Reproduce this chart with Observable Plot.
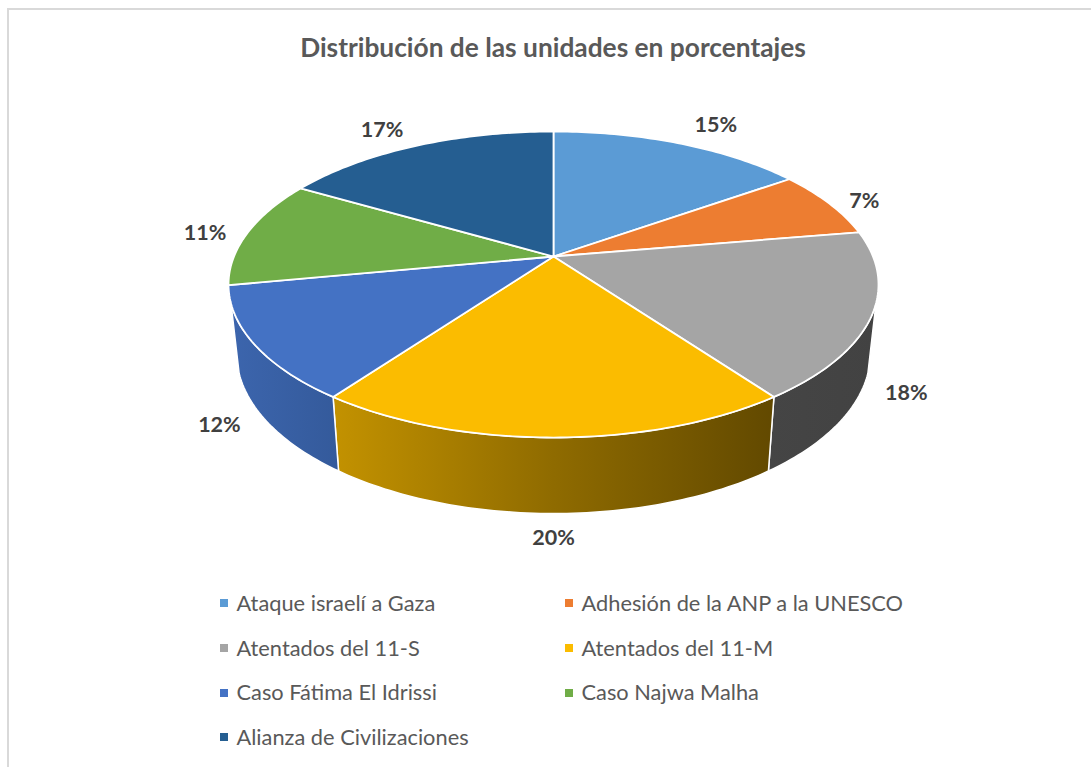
<!DOCTYPE html>
<html>
<head>
<meta charset="utf-8">
<script src="https://cdn.jsdelivr.net/npm/d3@7"></script>
<script src="https://cdn.jsdelivr.net/npm/@observablehq/plot@0.6"></script>
<style>
  html, body { margin: 0; padding: 0; background: #fff; }
  #page { position: relative; width: 1091px; height: 767px; overflow: hidden; font-family: Lato, sans-serif; }
  #frame { position: absolute; left: 7px; top: 8px; width: 1200px; height: 900px; border: 1px solid #d9d9d9; border-width: 2px 0 0 2px; box-sizing: border-box; }
  #title { position: absolute; left: 0; top: 29px; width: 1106px; text-align: center; font-size: 26.3px; line-height: 36px; font-weight: 700; color: #595959; }
  #chart { position: absolute; left: 0; top: 85px; }
  #chart svg { display: block; background: transparent; }
  #legend { position: absolute; left: 220px; top: 580px; display: grid; grid-template-columns: 345px 345px; grid-auto-rows: 44.7px; color: #595959; font-size: 21.8px; }
  .item { display: flex; align-items: center; height: 44.7px; white-space: nowrap; }
  .sw { width: 8px; height: 8px; margin-right: 8.5px; flex: none; position: relative; top: 1px; }
</style>
</head>
<body>
<div id="page">
  <div id="frame"></div>
  <div id="title"></div>
  <div id="chart"></div>
  <div id="legend"></div>
</div>
<script>
const titleText = "Distribución de las unidades en porcentajes";
const names = ["Ataque israelí a Gaza", "Adhesión de la ANP a la UNESCO", "Atentados del 11-S", "Atentados del 11-M", "Caso Fátima El Idrissi", "Caso Najwa Malha", "Alianza de Civilizaciones"];
const values = [15.2, 7.1, 17.7, 20, 12, 11.4, 16.6];
const colors = ["#5b9bd5", "#ed7d31", "#a5a5a5", "#fbbc00", "#4472c4", "#70ad47", "#255e91"];

// Layout of the tilted pie, all in pixels around the pie's centre.
const A = 147.9, B = 319.5, K = 0.183;          // perspective ellipse
const WALL_DY = 67.5, WALL_SX = 0.975, WALL_SY = 1.047; // lower rim
const WALL_FROM = 107.5, WALL_TO = 252.5;        // visible part of the side, degrees from 12 o'clock
const labelNudge = [[36, -18], [35, -2], [35, 77], [0, 101], [-35, 81], [-43, 1], [-34, -16]];

const rad = d => d * Math.PI / 180;
function top3d(deg, r = 1) {
  const u = r * Math.sin(rad(deg)), v = -r * Math.cos(rad(deg)), w = 1 - K * v;
  return [B * u / w, A * v / w];
}
function low3d(deg) {
  const [x, y] = top3d(deg);
  return [x * WALL_SX, WALL_DY + y * WALL_SY];
}
const arc = (a, b, f) => {
  const n = Math.max(2, Math.ceil(Math.abs(b - a)));
  return d3.range(n + 1).map(i => f(a + (b - a) * i / n));
};

let cum = 0;
const slices = values.map((v, i) => {
  const start = cum * 3.6; cum += v;
  return {name: names[i], color: colors[i], value: v, start, end: cum * 3.6, mid: (start + cum * 3.6) / 2, i};
});

const facePts = slices.flatMap(s => [[0, 0], ...arc(s.start, s.end, top3d), [0, 0]]
  .map(([x, y]) => ({name: s.name, color: s.color, x, y})));

// One gradient per visible side: darker slice colour, lighting from the left
const wallGradients = {
  "Atentados del 11-S": ["#454545", "#424242"],
  "Atentados del 11-M": ["#c39200", "#8f6b00", "#624900"],
  "Caso Fátima El Idrissi": ["#3c65ad", "#345a9b"]
};
const wallMarks = slices.filter(s => wallGradients[s.name]).map(s => {
  const a = Math.max(s.start, WALL_FROM), b = Math.min(s.end, WALL_TO);
  const pts = [...arc(a, b, top3d), ...arc(b, a, low3d)];
  pts.push(pts[0]);
  return Plot.line(pts.map(([x, y]) => ({x, y})), {
    x: "x", y: "y", fill: `url(#wall${s.i})`, stroke: "white", strokeWidth: 1.5, strokeLinejoin: "round"
  });
});

const defs = () => {
  const d = d3.create("svg:defs");
  slices.filter(s => wallGradients[s.name]).forEach(s => {
    const g = d.append("linearGradient").attr("id", `wall${s.i}`).attr("x1", 0).attr("x2", 1).attr("y1", 0).attr("y2", 0);
    const stops = wallGradients[s.name];
    stops.forEach((c, j) => g.append("stop").attr("offset", j / (stops.length - 1)).attr("stop-color", c));
  });
  return d.node();
};

const labels = slices.map(s => {
  const [x, y] = top3d(s.mid);
  return {text: Math.round(s.value) + "%", x: x + labelNudge[s.i][0], y: y + labelNudge[s.i][1]};
});

const plot = Plot.plot({
  width: 1091, height: 485,
  margin: 0,
  style: {background: "transparent"},
  x: {domain: [-553, 538], range: [0, 1091], axis: null},
  y: {domain: [-171, 314], range: [0, 485], axis: null},
  color: {type: "identity"},
  marks: [
    defs,
    ...wallMarks,
    Plot.line(facePts, {x: "x", y: "y", z: "name", fill: "color", stroke: "white", strokeWidth: 1.8, strokeLinejoin: "round"}),
    Plot.text(labels, {x: "x", y: "y", text: "text", fill: "#404040", fontSize: 21.5, fontWeight: 700, fontFamily: "Lato, sans-serif"})
  ]
});
document.getElementById("chart").appendChild(plot);
document.getElementById("title").textContent = titleText;
const lg = document.getElementById("legend");
names.forEach((n, i) => {
  const it = document.createElement("div"); it.className = "item";
  const sw = document.createElement("span"); sw.className = "sw"; sw.style.background = colors[i];
  const tx = document.createElement("span"); tx.textContent = n;
  it.append(sw, tx); lg.append(it);
});
</script>
</body>
</html>
